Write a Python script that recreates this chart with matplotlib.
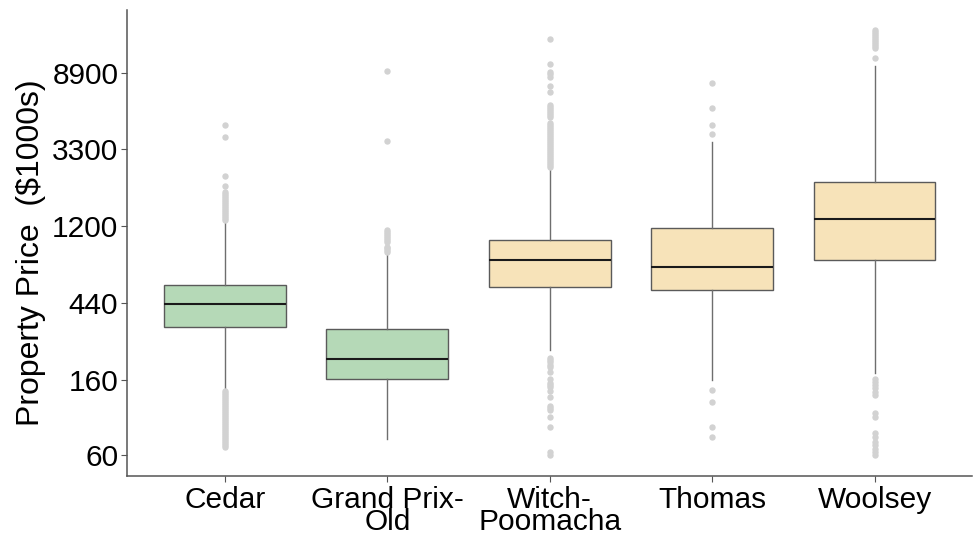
import matplotlib
matplotlib.use("Agg")
import matplotlib.pyplot as plt

plt.rcParams['font.family'] = ['Liberation Sans', 'DejaVu Sans']

# Fire areas and property price summaries ($1000s)
fires = ["Cedar", "Grand Prix-\nOld", "Witch-\nPoomacha", "Thomas", "Woolsey"]
q1 = [323, 162, 541, 520, 770]
median = [433, 212, 773, 703, 1322]
q3 = [557, 312, 1000, 1171, 2138]
whisker_low = [144, 74, 238, 161, 177]
whisker_high = [1277, 844, 2512, 3637, 9798]

outliers = [
    # Cedar
    [1305, 1340, 1375, 1412, 1450, 1489, 1528, 1568, 1609, 1652, 1696, 1740,
     1787, 1834, 1883, 2037, 2331, 3882, 4526,
     139, 135, 132, 129, 125, 122, 119, 116, 113, 110, 107, 104, 102, 99, 96.5,
     94, 91.5, 89, 87, 84.5, 82.5, 80, 78, 76, 74.3, 72.5, 70.5, 68.5, 67],
    # Grand Prix-Old
    [862, 881, 900, 920, 983, 1006, 1031, 1058, 1087, 1115, 1145, 3686, 9212],
    # Witch-Poomacha
    [2612, 2680, 2753, 2826, 2902, 2980, 3057, 3140, 3221, 3307, 3394, 3485,
     3576, 3670, 3768, 3868, 3970, 4075, 4183, 4295, 4408, 4520, 4630,
     5046, 5170, 5300, 5440, 5580, 5730, 5880, 6996, 7570, 8515, 8780, 9055,
     10020, 13950,
     214, 208, 203, 197, 191, 178, 162, 155, 151, 147, 140, 128, 114, 111, 109,
     99, 87, 63, 60],
    # Thomas
    [4022, 4506, 5633, 7811, 141, 120, 87, 76.5],
    # Woolsey
    [10836, 12397, 12720, 13062, 13410, 13770, 14130, 14510, 14900, 15290,
     15700,
     162, 157, 151, 144, 138, 132, 104, 99, 80, 76.5, 71.7, 68.7, 65.6, 62.6,
     60],
]

green = "#b5d9b7"
peach = "#f7e3b9"
fills = [green, green, peach, peach, peach]

ytick_vals = [60, 160, 440, 1200, 3300, 8900]

fig = plt.figure(figsize=(9.79, 5.37), dpi=100)
ax = fig.add_axes([0.1294, 0.1136, 0.8634, 0.8678])

stats = []
for i, name in enumerate(fires):
    stats.append(dict(label=name, q1=q1[i], med=median[i], q3=q3[i],
                      whislo=whisker_low[i], whishi=whisker_high[i],
                      fliers=outliers[i]))

positions = list(range(len(fires)))
bp = ax.bxp(stats, positions=positions, widths=0.75, patch_artist=True,
            showcaps=False,
            boxprops=dict(edgecolor="#5a5a5a", linewidth=1.0),
            medianprops=dict(color="#1a1a1a", linewidth=1.5),
            whiskerprops=dict(color="#6e6e6e", linewidth=1.0),
            flierprops=dict(marker="o", markersize=3.6,
                            markerfacecolor="#d2d2d2",
                            markeredgecolor="#d2d2d2", linestyle="none"))
for patch, c in zip(bp["boxes"], fills):
    patch.set_facecolor(c)

ax.set_yscale("log")
ax.set_ylim(45.8, 20400)
ax.set_xlim(-0.605, 4.6)
ax.set_yticks(ytick_vals)
ax.set_yticklabels([str(v) for v in ytick_vals])
ax.yaxis.set_minor_locator(matplotlib.ticker.NullLocator())
ax.set_xticks(positions)
ax.set_xticklabels(fires, linespacing=0.74)

ax.tick_params(axis="both", length=4, width=0.8, color="#555555",
               labelcolor="black")
ax.tick_params(axis="y", labelsize=21.5, pad=2)
ax.tick_params(axis="x", labelsize=21.5, pad=3)
ax.set_ylabel("Property Price  ($1000s)", fontsize=23)
ax.yaxis.set_label_coords(-0.0955, 0.48)

for s in ["top", "right"]:
    ax.spines[s].set_visible(False)
for s in ["left", "bottom"]:
    ax.spines[s].set_color("#555555")
    ax.spines[s].set_linewidth(1.1)

fig.savefig("out.png", dpi=100)
